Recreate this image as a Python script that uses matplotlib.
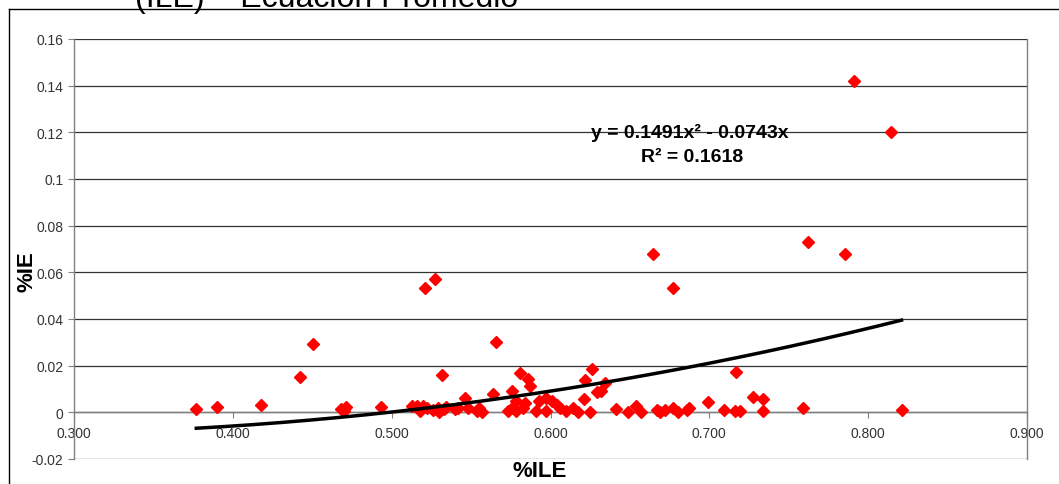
import numpy as np
import matplotlib
matplotlib.use("Agg")
import matplotlib.pyplot as plt
from matplotlib.lines import Line2D

plt.rcParams['font.family'] = ['Liberation Sans', 'DejaVu Sans']

# %ILE vs %IE values
ile = [0.377, 0.390, 0.418, 0.442, 0.4505, 0.468, 0.471, 0.470, 0.493, 0.513,
       0.516, 0.518, 0.520, 0.521, 0.522, 0.527, 0.526, 0.529, 0.530, 0.532,
       0.533, 0.534, 0.540, 0.542, 0.546, 0.548, 0.554, 0.555, 0.557, 0.564,
       0.566, 0.573, 0.576, 0.576, 0.578, 0.578, 0.581, 0.583, 0.584, 0.586,
       0.587, 0.591, 0.593, 0.597, 0.597, 0.601, 0.604, 0.606, 0.610, 0.614,
       0.617, 0.621, 0.622, 0.625, 0.626, 0.629, 0.632, 0.634, 0.641, 0.649,
       0.654, 0.657, 0.6646, 0.667, 0.669, 0.672, 0.677, 0.677, 0.680, 0.686,
       0.687, 0.699, 0.709, 0.716, 0.717, 0.719, 0.7275, 0.734, 0.734, 0.759,
       0.762, 0.7855, 0.791, 0.8145, 0.821]
ie = [0.0013, 0.0022, 0.0030, 0.0150, 0.0295, 0.0015, 0.0025, 0.0005, 0.0024, 0.0026,
      0.0028, 0.0005, 0.0028, 0.0535, 0.0020, 0.0570, 0.0008, 0.0020, 0.0003, 0.0160,
      0.0015, 0.0025, 0.0013, 0.0017, 0.0060, 0.0020, 0.0005, 0.0020, 0.0000, 0.0080,
      0.0300, 0.0005, 0.0090, 0.0020, 0.0005, 0.0047, 0.0170, 0.0020, 0.0040, 0.0145,
      0.0115, 0.0005, 0.0050, 0.0060, 0.0005, 0.0047, 0.0030, 0.0020, 0.0005, 0.0017,
      0.0000, 0.0056, 0.0137, 0.0000, 0.0185, 0.0086, 0.0090, 0.0124, 0.0013, 0.0000,
      0.0026, 0.0000, 0.0680, 0.0009, 0.0000, 0.0009, 0.0017, 0.0535, 0.0000, 0.0009,
      0.0017, 0.0043, 0.0009, 0.0005, 0.0175, 0.0005, 0.0064, 0.0056, 0.0005, 0.0020,
      0.0728, 0.0677, 0.1422, 0.1203, 0.0009]

# trendline coefficients shown on the chart
a2, a1 = 0.1491, -0.0743
x_ticks = [0.3, 0.4, 0.5, 0.6, 0.7, 0.8, 0.9]
y_ticks = [-0.02, 0, 0.02, 0.04, 0.06, 0.08, 0.1, 0.12, 0.14, 0.16]

fig = plt.figure(figsize=(10.59, 4.85), dpi=100)
ax = fig.add_axes([74 / 1059, 1 - 460 / 485, 953 / 1059, 420 / 485])

ax.plot(ile, ie, linestyle='none', marker='D', markersize=5.7,
        color='#ff0000', markeredgecolor='#ff0000', zorder=3)

xt = np.linspace(min(ile), max(ile), 200)
ax.plot(xt, a2 * xt**2 + a1 * xt, color='black', lw=2.5, zorder=4)

ax.set_xlim(0.3, 0.9)
ax.set_ylim(-0.02, 0.16)
ax.set_xticks(x_ticks)
ax.set_yticks(y_ticks)
ax.set_xticklabels(['%.3f' % v for v in x_ticks])
ax.set_yticklabels(['%g' % v for v in y_ticks])

ax.yaxis.grid(True, color='#333333', lw=0.9)
ax.set_axisbelow(True)
ax.spines['bottom'].set_position(('data', 0))
ax.spines['top'].set_visible(False)
for s in ['left', 'right', 'bottom']:
    ax.spines[s].set_color('#808080')
    ax.spines[s].set_linewidth(1.0)
ax.tick_params(axis='both', direction='out', length=4, color='#808080',
               labelsize=10, labelcolor='#333333')
ax.tick_params(axis='x', pad=6)

ax.text(0.688, 0.120, 'y = 0.1491x² - 0.0743x', ha='center', va='center',
        fontsize=14, fontweight='bold')
ax.text(0.689, 0.1096, 'R² = 0.1618', ha='center', va='center',
        fontsize=14, fontweight='bold')

fig.text(540 / 1059, 1 - 472 / 485, '%ILE', ha='center', va='center',
         fontsize=16, fontweight='bold')
fig.text(27 / 1059, 1 - 272 / 485, '%IE', ha='center', va='center',
         fontsize=16, fontweight='bold', rotation=90)

# title of the original figure, cut off at the top as in the source image
fig.text(135 / 1059, 1 - 7 / 485, '(ILE) \u2013 Ecuación Promedio', ha='left',
         va='baseline', fontsize=23)

# outer chart frame
fig.add_artist(Line2D([9 / 1059, 1], [1 - 10 / 485, 1 - 10 / 485],
                      transform=fig.transFigure, color='black', lw=1))
fig.add_artist(Line2D([9 / 1059, 9 / 1059], [0, 1 - 10 / 485],
                      transform=fig.transFigure, color='black', lw=1))

fig.savefig('out.png', dpi=100)
